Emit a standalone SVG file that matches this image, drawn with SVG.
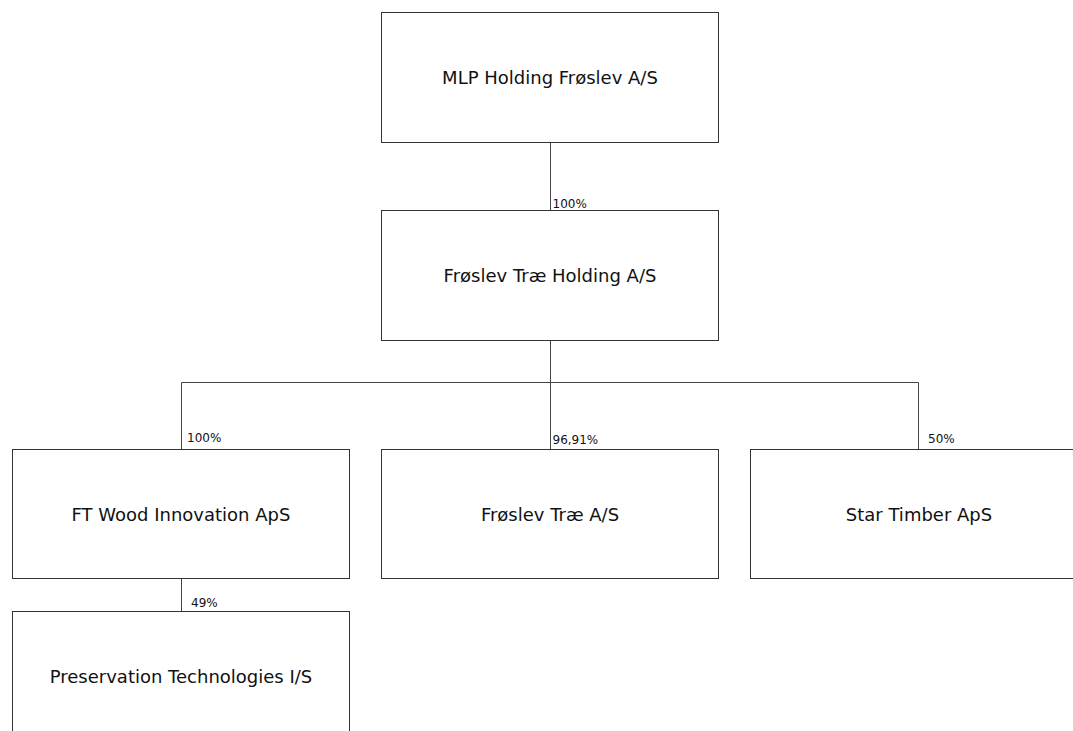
<svg xmlns="http://www.w3.org/2000/svg" width="1073" height="731" viewBox="0 0 1073 731">
<style>
.box{fill:#fff;stroke:#333;stroke-width:1}
.conn{fill:none;stroke:#444;stroke-width:1}
.name{font-family:"DejaVu Sans",Verdana,sans-serif;font-size:18px;fill:#111;text-anchor:middle}
.pct{font-family:"DejaVu Sans",Verdana,sans-serif;font-size:12px;fill:#111}
</style>
<rect width="1073" height="731" fill="#fff"/>
<g id="connectors">
<path class="conn" d="M550.5 142.5V210.5"/>
<path class="conn" d="M550.5 340.5V449.5"/>
<path class="conn" d="M181.5 449.5V382.5H918.5V449.5"/>
<path class="conn" d="M181.5 578.5V611.5"/>
<text class="pct" x="552.5" y="208">100%</text>
<text class="pct" x="187" y="442">100%</text>
<text class="pct" x="552.5" y="444">96,91%</text>
<text class="pct" x="928" y="443">50%</text>
<text class="pct" x="191" y="607">49%</text>
</g>
<g id="n-mlp"><rect class="box" x="381.5" y="12.5" width="337" height="130"/><text class="name" x="550" y="84">MLP Holding Frøslev A/S</text></g>
<g id="n-holding"><rect class="box" x="381.5" y="210.5" width="337" height="130"/><text class="name" x="550" y="282">Frøslev Træ Holding A/S</text></g>
<g id="n-ftwood"><rect class="box" x="12.5" y="449.5" width="337" height="129"/><text class="name" x="181" y="521">FT Wood Innovation ApS</text></g>
<g id="n-froslev"><rect class="box" x="381.5" y="449.5" width="337" height="129"/><text class="name" x="550" y="521">Frøslev Træ A/S</text></g>
<g id="n-star"><rect class="box" x="750.5" y="449.5" width="337" height="129"/><text class="name" x="919" y="521">Star Timber ApS</text></g>
<g id="n-pres"><rect class="box" x="12.5" y="611.5" width="337" height="130"/><text class="name" x="181" y="683">Preservation Technologies I/S</text></g>
</svg>
